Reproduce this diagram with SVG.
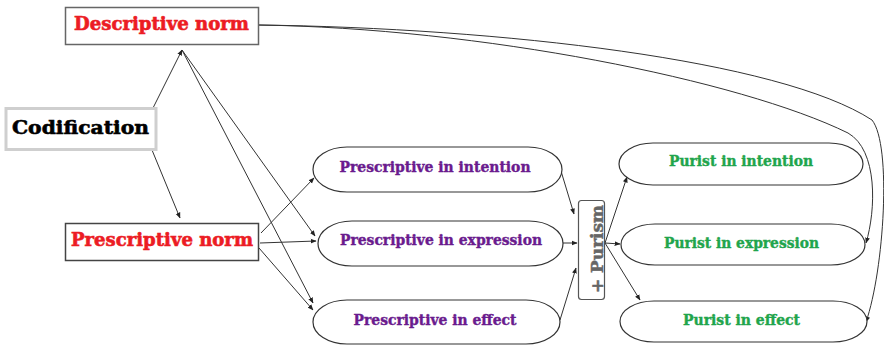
<svg xmlns="http://www.w3.org/2000/svg" width="884" height="346" viewBox="0 0 884 346">
<defs>
<marker id="ah" viewBox="0 0 10 10" refX="9" refY="5" markerWidth="6" markerHeight="6" markerUnits="userSpaceOnUse" orient="auto">
<path d="M0,1 L10,5 L0,9 z" fill="#222"/>
</marker>
</defs>
<style>
.t{font-family:"DejaVu Serif","Liberation Serif",serif;font-weight:bold;}
.red{fill:#ec1c24;stroke:#ec1c24;stroke-width:0.6;font-size:18px;}
.blk{fill:#000;stroke:#000;stroke-width:0.6;font-size:19px;}
.pur{fill:#6a1b8e;stroke:#6a1b8e;stroke-width:0.4;font-size:14px;}
.grn{fill:#1fa54c;stroke:#1fa54c;stroke-width:0.4;font-size:14px;}
.pill{fill:#fff;stroke:#333;stroke-width:1.2;}
.c{fill:none;stroke:#333;stroke-width:1;marker-end:url(#ah);}
</style>
<rect width="884" height="346" fill="#fff"/>
<g id="connectors">
<path class="c" d="M153,108 L182,50"/>
<path class="c" d="M182,50 L315,236"/>
<path class="c" d="M182,50 L313,303"/>
<path class="c" d="M152,150 L180,218"/>
<path class="c" d="M261,233 L314,178"/>
<path class="c" d="M260,243 L316,241"/>
<path class="c" d="M259,248 L313,310"/>
<path class="c" d="M561,171 L574,214"/>
<path class="c" d="M563,243 L577,243"/>
<path class="c" d="M560,320 L576,268"/>
<path class="c" d="M605,243 L627,177"/>
<path class="c" d="M605,243 L620,244"/>
<path class="c" d="M605,243 L640,300"/>
<path class="c" d="M258,25 C480,28 740,80 848,133 C878,150 876,210 866,243"/>
<path class="c" d="M258,25 C500,28 780,60 872,120 C892,145 884,270 866,322"/>
</g>
<g id="descriptive-norm">
<rect x="65.5" y="7.5" width="193" height="37" fill="#fff" stroke="#666" stroke-width="1.5"/>
<text class="t red" x="161.5" y="30" text-anchor="middle" textLength="175" lengthAdjust="spacingAndGlyphs">Descriptive norm</text>
</g>
<g id="codification">
<rect x="6" y="108.5" width="150" height="41" fill="#fff" stroke="#cfcfcf" stroke-width="3"/>
<text class="t blk" x="80.5" y="134" text-anchor="middle" textLength="137" lengthAdjust="spacingAndGlyphs">Codification</text>
</g>
<g id="prescriptive-norm">
<rect x="65.5" y="223.5" width="193" height="37" fill="#fff" stroke="#444" stroke-width="1.5"/>
<text class="t red" x="162" y="246" text-anchor="middle" textLength="182" lengthAdjust="spacingAndGlyphs">Prescriptive norm</text>
</g>
<g id="prescriptive-intention">
<rect class="pill" x="313" y="147" width="249" height="45" rx="34" ry="22.5"/>
<text class="t pur" x="435" y="172" text-anchor="middle" textLength="191" lengthAdjust="spacingAndGlyphs">Prescriptive in intention</text>
</g>
<g id="prescriptive-expression">
<rect class="pill" x="318" y="221" width="245" height="45" rx="34" ry="22.5"/>
<text class="t pur" x="441" y="245" text-anchor="middle" textLength="202" lengthAdjust="spacingAndGlyphs">Prescriptive in expression</text>
</g>
<g id="prescriptive-effect">
<rect class="pill" x="313" y="300" width="247" height="44" rx="34" ry="22"/>
<text class="t pur" x="435" y="325" text-anchor="middle" textLength="163" lengthAdjust="spacingAndGlyphs">Prescriptive in effect</text>
</g>
<g id="purism">
<rect x="578.5" y="200.5" width="26" height="99" rx="3" fill="#fff" stroke="#555" stroke-width="1.2"/>
<text class="t" x="0" y="0" transform="translate(603,249) rotate(-90)" text-anchor="middle" fill="#666" stroke="#666" stroke-width="0.5" font-size="17" textLength="88" lengthAdjust="spacingAndGlyphs">+ Purism</text>
</g>
<g id="purist-intention">
<rect class="pill" x="619" y="143" width="244" height="42" rx="34" ry="21"/>
<text class="t grn" x="741" y="166" text-anchor="middle" textLength="144" lengthAdjust="spacingAndGlyphs">Purist in intention</text>
</g>
<g id="purist-expression">
<rect class="pill" x="621" y="224" width="244" height="41" rx="34" ry="20.5"/>
<text class="t grn" x="741.5" y="248" text-anchor="middle" textLength="155" lengthAdjust="spacingAndGlyphs">Purist in expression</text>
</g>
<g id="purist-effect">
<rect class="pill" x="620" y="301" width="247" height="41" rx="34" ry="20.5"/>
<text class="t grn" x="741.5" y="325" text-anchor="middle" textLength="117" lengthAdjust="spacingAndGlyphs">Purist in effect</text>
</g>
</svg>
